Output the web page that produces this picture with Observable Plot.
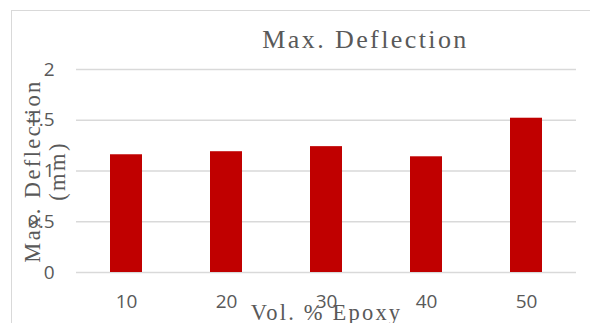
<!DOCTYPE html>
<html>
<head>
<meta charset="utf-8">
<script src="https://cdn.jsdelivr.net/npm/d3@7"></script>
<script src="https://cdn.jsdelivr.net/npm/@observablehq/plot@0.6"></script>
<style>
  html, body { margin: 0; padding: 0; background: #fff; }
  #wrap { position: relative; width: 590px; height: 323px; overflow: hidden; }
  #box { position: absolute; left: 11px; top: 10px; width: 600px; height: 400px;
         border-left: 1.5px solid #d9d9d9; border-top: 1.5px solid #d9d9d9; box-sizing: border-box; }
  #chart { position: absolute; left: 0; top: 0; }
</style>
</head>
<body>
<div id="wrap"><div id="box"></div><div id="chart"></div></div>
<script>
// Maximum deflection measured for each epoxy volume fraction
const epoxyVol = [10, 20, 30, 40, 50];
const maxDeflection = [1.16, 1.19, 1.24, 1.14, 1.52];
const yTicks = [0, 0.5, 1, 1.5, 2];

const chartTitle = "Max. Deflection";
const xTitle = "Vol. % Epoxy";
const yTitle = "Max. Deflection\n(mm)";

const rows = epoxyVol.map((v, i) => ({vol: v, defl: maxDeflection[i]}));

const serif = "'Liberation Serif', 'Times New Roman', serif";
const grey = "#595959";

const plot = Plot.plot({
  width: 590,
  height: 323,
  marginLeft: 76,
  marginRight: 14,
  marginTop: 69,
  marginBottom: 51,
  style: {background: "transparent", fontFamily: "'Open Sans', sans-serif", overflow: "visible"},
  x: {type: "band", domain: epoxyVol, paddingInner: 0.68, paddingOuter: 0.34},
  y: {domain: [0, 2], ticks: yTicks},
  marks: [
    Plot.gridY(yTicks, {stroke: "#d9d9d9", strokeOpacity: 1, strokeWidth: 1.5}),
    Plot.barY(rows, {x: "vol", y: "defl", fill: "#c00000"}),
    Plot.axisY(yTicks, {tickSize: 0, tickPadding: 22, fontSize: 19, fill: grey, label: null,
      tickFormat: d => String(d)}),
    Plot.axisX({tickSize: 0, tickPadding: 22, fontSize: 19, fill: grey, label: null}),
    Plot.text([chartTitle], {frameAnchor: "top", dx: 39, dy: -22, lineAnchor: "bottom",
      fontSize: 26, fontFamily: serif, fill: grey}),
    Plot.text([xTitle], {frameAnchor: "bottom", dy: 47, lineAnchor: "bottom",
      fontSize: 22.5, fontFamily: serif, fill: grey}),
    Plot.text([yTitle], {frameAnchor: "left", textAnchor: "middle", dx: -32, rotate: -90, lineHeight: 1.1,
      fontSize: 22.5, fontFamily: serif, fill: grey})
  ]
});

// Wider tracking on the serif titles
const tracking = new Map([[chartTitle, "3.8px"], [xTitle, "2.2px"], ["Max. Deflection", "2.4px"], ["(mm)", "2.4px"]]);
d3.select(plot).selectAll("text, tspan").each(function() {
  const own = Array.from(this.childNodes).filter(n => n.nodeType === 3).map(n => n.textContent).join("");
  if (tracking.has(own)) this.style.letterSpacing = tracking.get(own);
});

document.getElementById("chart").appendChild(plot);
</script>
</body>
</html>
